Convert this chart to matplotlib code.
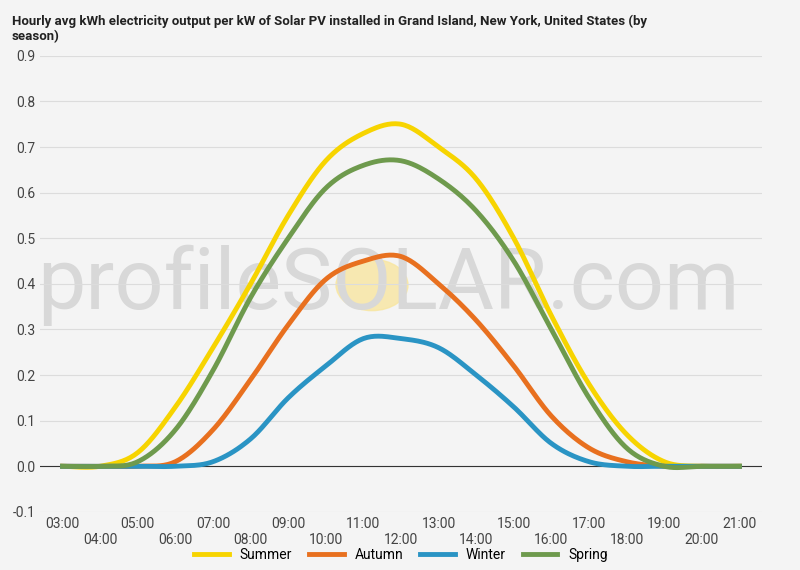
import numpy as np
import matplotlib.pyplot as plt
from matplotlib.patches import Circle

plt.rcParams['font.family'] = ['Roboto', 'DejaVu Sans']

hours = list(range(3, 22))
hour_labels = ['%02d:00' % h for h in hours]
summer = [0, 0, 0.03, 0.13, 0.26, 0.40, 0.55, 0.67, 0.73, 0.75, 0.70, 0.63, 0.50, 0.33, 0.18, 0.07, 0.01, 0, 0]
autumn = [0, 0, 0, 0.01, 0.08, 0.19, 0.31, 0.41, 0.45, 0.46, 0.40, 0.32, 0.22, 0.11, 0.04, 0.01, 0, 0, 0]
winter = [0, 0, 0, 0, 0.01, 0.06, 0.15, 0.22, 0.28, 0.28, 0.26, 0.20, 0.13, 0.05, 0.01, 0, 0, 0, 0]
spring = [0, 0, 0.01, 0.08, 0.21, 0.37, 0.50, 0.61, 0.66, 0.67, 0.63, 0.56, 0.45, 0.30, 0.15, 0.04, 0, 0, 0]


def smooth(x, y, n=20):
    # catmull-rom through the points
    x = np.asarray(x, float); y = np.asarray(y, float)
    xp = np.concatenate([[x[0]], x, [x[-1]]]); yp = np.concatenate([[y[0]], y, [y[-1]]])
    xs, ys = [], []
    for i in range(1, len(xp) - 2):
        t = np.linspace(0, 1, n, endpoint=False)
        for arr, out in ((xp, xs), (yp, ys)):
            p0, p1, p2, p3 = arr[i-1], arr[i], arr[i+1], arr[i+2]
            out.extend(0.5 * (2*p1 + (-p0+p2)*t + (2*p0-5*p1+4*p2-p3)*t**2 + (-p0+3*p1-3*p2+p3)*t**3))
    xs.append(x[-1]); ys.append(y[-1])
    return np.array(xs), np.array(ys)


bg = '#f4f4f4'
fig = plt.figure(figsize=(8, 5.7), dpi=100, facecolor=bg)

# watermark (behind everything)
fig.patches.append(Circle((0.465, 0.5), 0.045, transform=fig.transFigure, color='#f8e6a0', alpha=0.8, zorder=-2))
fig.text(0.485, 0.5, 'profileSOLAR.com', fontsize=62, color='#d8d8d8', ha='center', va='center', zorder=-1)

ax = fig.add_axes([0.05, 0.102, 0.9025, 0.8])
ax.set_facecolor('none')

series = [('Summer', summer, '#f7d400'), ('Autumn', autumn, '#e8701f'),
          ('Winter', winter, '#2a94c4'), ('Spring', spring, '#6e9a4d')]
for name, vals, c in series:
    xs, ys = smooth(hours, vals)
    ax.plot(xs, ys, color=c, lw=3.5, label=name, zorder=3)

ax.axhline(0, color='#333333', lw=0.8, zorder=2)
ax.set_ylim(-0.1, 0.9)
ax.set_yticks(np.arange(-0.1, 0.91, 0.1))
ax.set_yticklabels(['%.1f' % v for v in np.arange(-0.1, 0.91, 0.1)], fontsize=10, color='#444444')
ax.set_xlim(2.4, 21.6)
ax.set_xticks(hours)
ax.set_xticklabels([l if i % 2 == 0 else '\n' + l for i, l in enumerate(hour_labels)], fontsize=10, color='#444444')
ax.grid(axis='y', color='#dcdcdc', lw=0.8)
ax.tick_params(length=0)
for s in ax.spines.values():
    s.set_visible(False)

fig.text(0.015, 0.975, 'Hourly avg kWh electricity output per kW of Solar PV installed in Grand Island, New York, United States (by\nseason)',
         fontsize=9.5, fontweight='bold', va='top', color='#222222')
ax.legend(loc='upper center', bbox_to_anchor=(0.5, -0.06), ncol=4, frameon=False, fontsize=10,
          handlelength=2.5, columnspacing=1.2, borderpad=0.1)

fig.savefig('out.png', dpi=100, facecolor=bg)
